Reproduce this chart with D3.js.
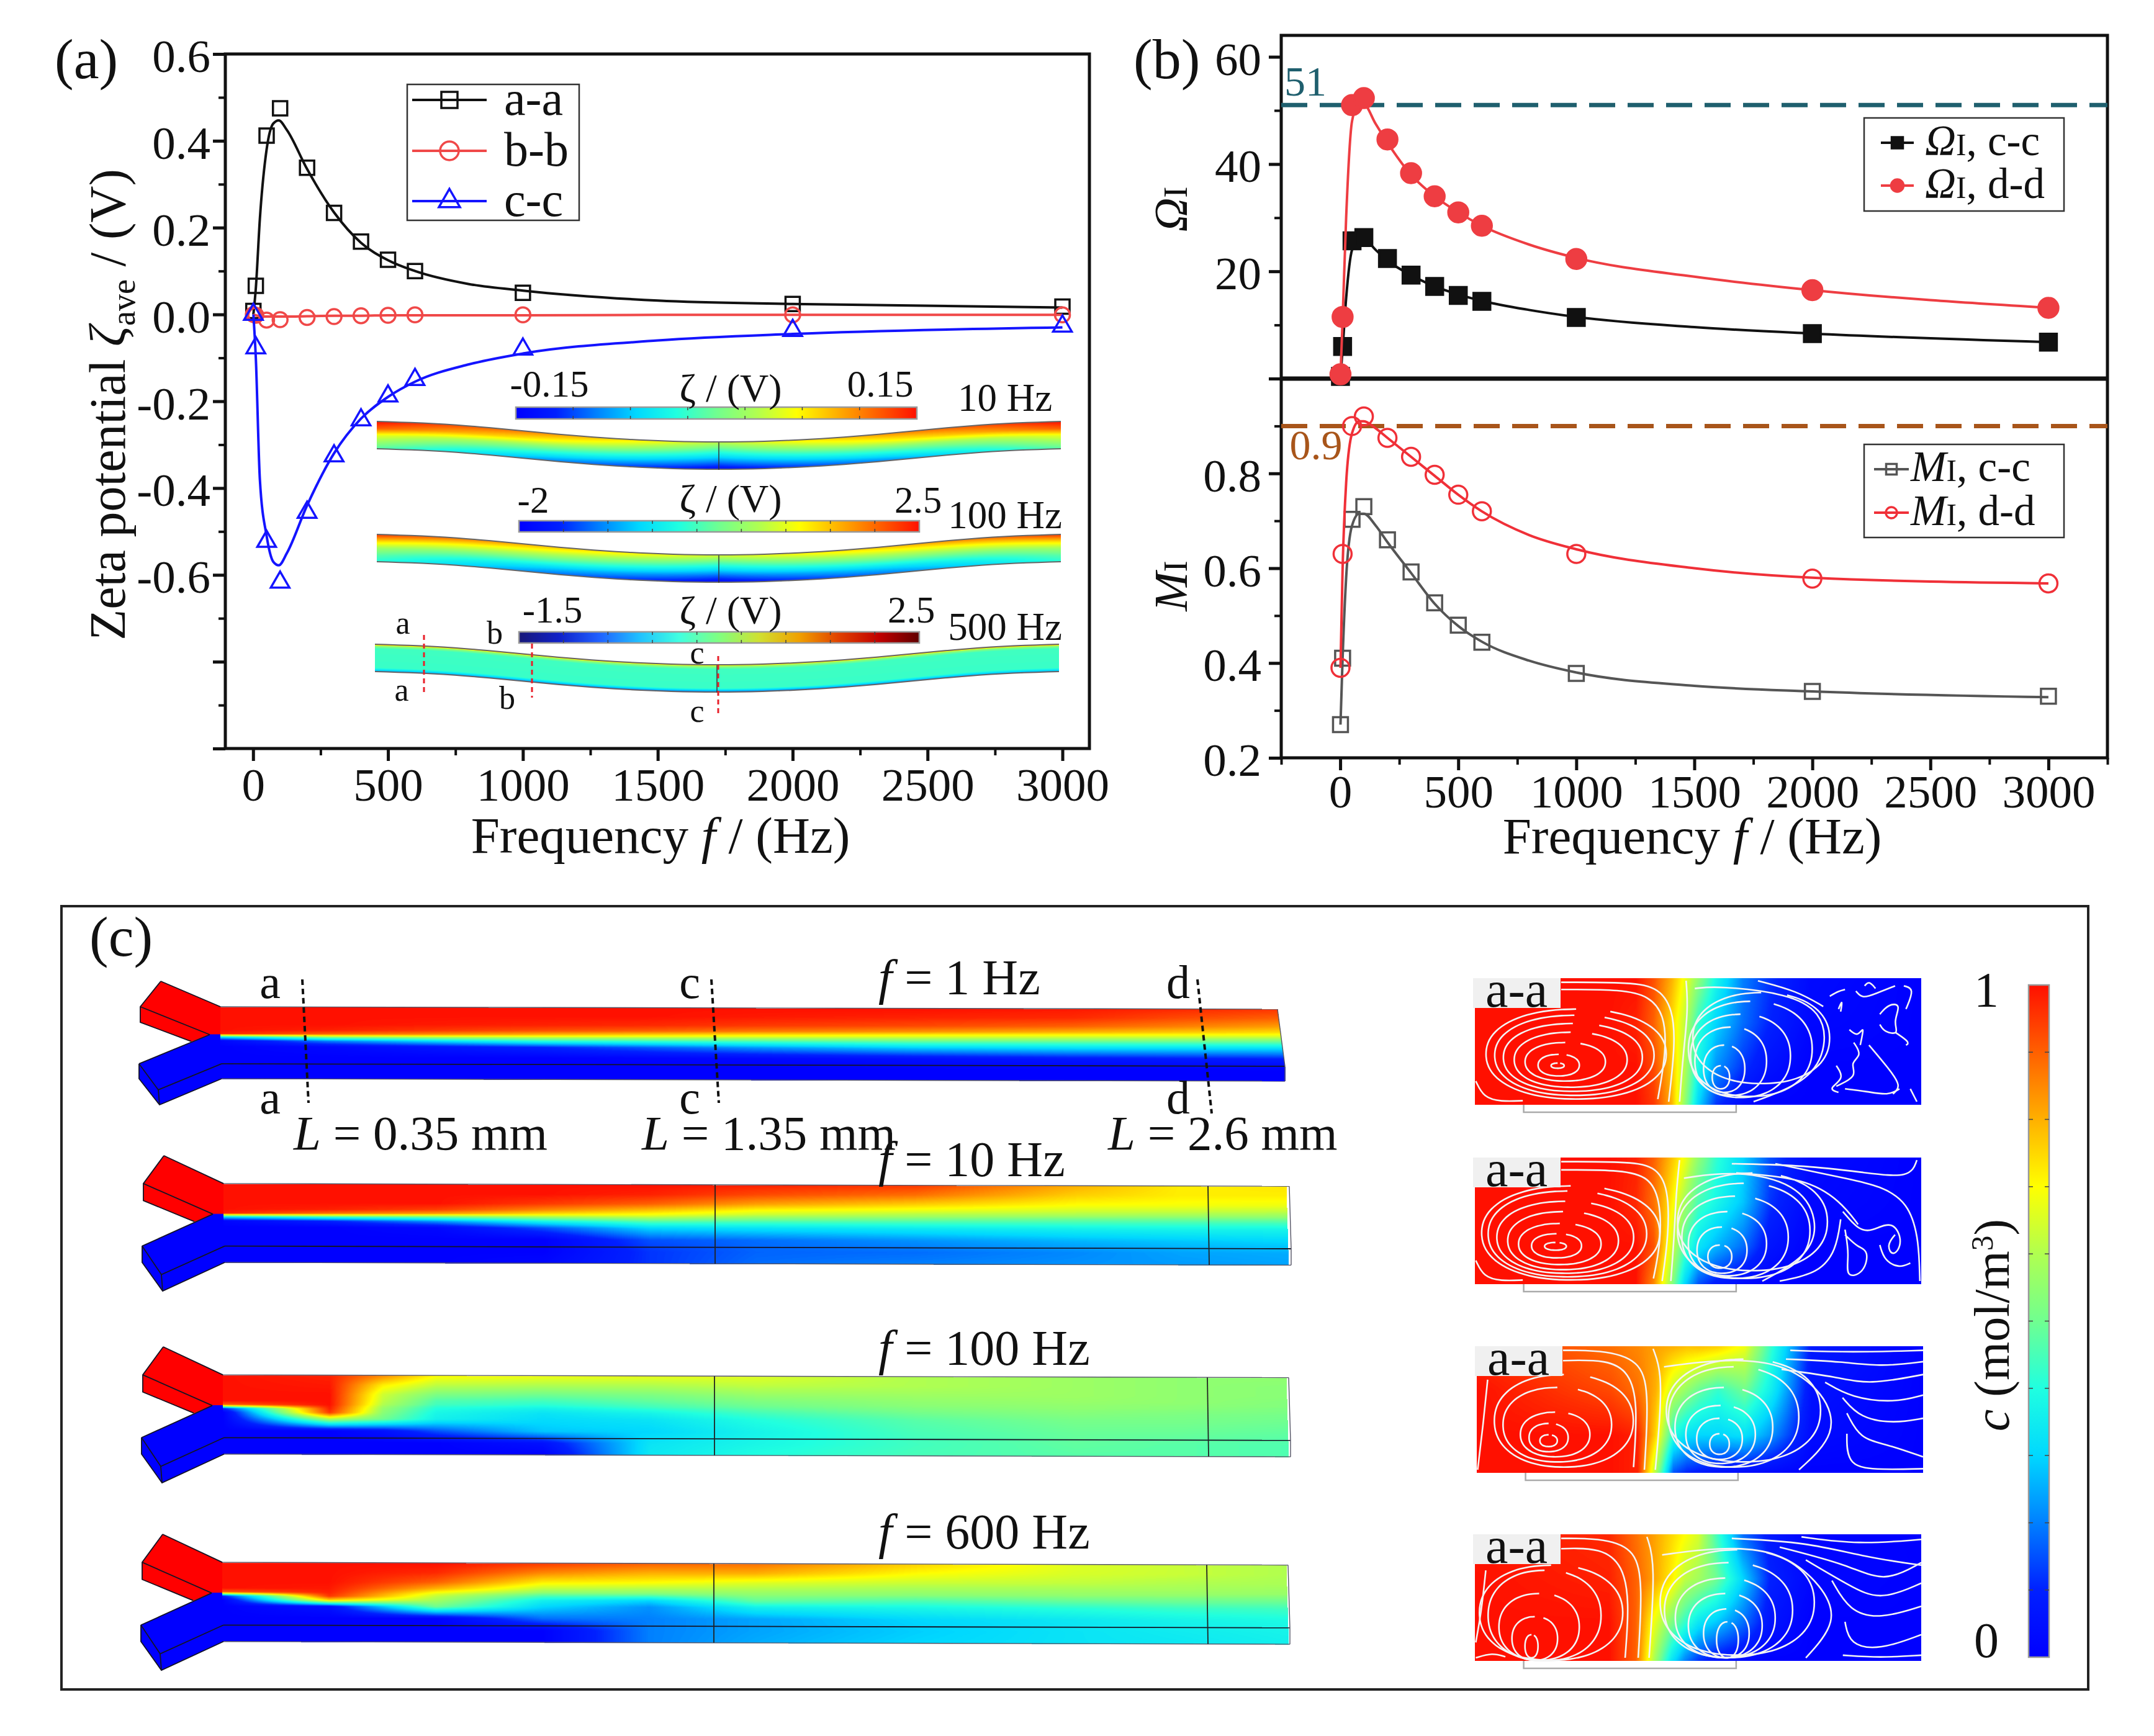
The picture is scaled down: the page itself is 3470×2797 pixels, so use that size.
<!DOCTYPE html>
<html>
<head>
<meta charset="utf-8">
<script src="https://cdn.jsdelivr.net/npm/d3@7"></script>
<style>
  body { margin: 0; background: #fff; }
  svg { display: block; }
  text { font-family: "Liberation Serif", serif; fill: #111; }
  .axis path { display: none; }
  .axis line { stroke: #111; stroke-width: 5; }
  .axis text { font-size: 75px; }
</style>
</head>
<body>
<svg></svg>
<script>
// ---- data ----
const freq = [1, 10, 50, 100, 200, 300, 400, 500, 600, 1000, 2000, 3000];

// panel (a) markers
const zetaAA = [0.008, 0.066, 0.412, 0.475, 0.338, 0.234, 0.168, 0.126, 0.1, 0.05, 0.024, 0.018];
const zetaBB = [0, -0.002, -0.013, -0.012, -0.007, -0.005, -0.003, -0.002, -0.001, -0.001, -0.001, -0.001];
const zetaCC = [0, -0.077, -0.523, -0.617, -0.456, -0.326, -0.243, -0.188, -0.15, -0.08, -0.037, -0.027];

// panel (a) fitted curves
const fitFreqZeta = [1, 10, 25, 50, 75, 95, 125, 200, 300, 400, 500, 600, 800, 1000, 1500, 2000, 3000];
const fitAA = [0, 0.06, 0.22, 0.38, 0.44, 0.447, 0.425, 0.335, 0.235, 0.165, 0.125, 0.1, 0.07, 0.055, 0.032, 0.024, 0.016];
const fitBB = [0, -0.002, -0.004, -0.005, -0.005, -0.005, -0.005, -0.004, -0.003, -0.003, -0.002, -0.002, -0.002, -0.002, -0.001, -0.001, -0.001];
const fitCC = [0, -0.1, -0.38, -0.51, -0.57, -0.578, -0.55, -0.44, -0.32, -0.24, -0.19, -0.155, -0.115, -0.09, -0.06, -0.045, -0.03];

// panel (b) markers
const omegaCC = [0.4, 6, 25.7, 26.3, 22.4, 19.3, 17.2, 15.5, 14.4, 11.4, 8.4, 6.8];
const omegaDD = [0.8, 11.5, 51, 52.3, 44.6, 38.3, 34, 31, 28.5, 22.3, 16.5, 13.2];
const mixCC = [0.27, 0.41, 0.703, 0.73, 0.66, 0.592, 0.527, 0.48, 0.444, 0.378, 0.34, 0.33];
const mixDD = [0.39, 0.63, 0.9, 0.92, 0.875, 0.835, 0.797, 0.755, 0.72, 0.63, 0.578, 0.568];

// panel (b) fitted curves
const fitFreqB = [1, 10, 25, 50, 80, 100, 150, 200, 300, 400, 500, 600, 800, 1000, 1500, 2000, 3000];
const fitOmegaCC = [0.3, 5.5, 15, 24, 26, 26, 24, 22, 19.3, 17.2, 15.7, 14.5, 12.8, 11.5, 9.6, 8.4, 6.8];
const fitOmegaDD = [0.5, 11, 30, 48, 51.5, 51.3, 47.5, 44, 38, 34, 31, 28.5, 25, 22.5, 19, 16.5, 13.2];
const fitMixCC = [0.27, 0.41, 0.58, 0.69, 0.715, 0.715, 0.69, 0.655, 0.59, 0.525, 0.478, 0.445, 0.405, 0.38, 0.352, 0.34, 0.328];
const fitMixDD = [0.39, 0.6, 0.78, 0.885, 0.91, 0.91, 0.895, 0.875, 0.835, 0.795, 0.755, 0.72, 0.67, 0.64, 0.6, 0.58, 0.568];

const zetaTicks = [0.6, 0.4, 0.2, 0, -0.2, -0.4, -0.6];
const freqTicks = [0, 500, 1000, 1500, 2000, 2500, 3000];

// concentration along the channels: one list per station, top of the face to the side wall
const fieldStations = [0, 0.1, 0.2, 0.3, 0.4, 0.5, 0.65, 0.8, 0.9, 1];
const fieldStations100 = [0, 0.1, 0.15, 0.2, 0.3, 0.4, 0.5, 0.65, 0.8, 0.9, 1];
const fieldRows = [0, 0.12, 0.24, 0.32, 0.37, 0.39, 0.42, 0.47, 0.55, 0.7, 0.85, 1];
const chan1Hz = [
  [1, 1, 1, 1, 0.98, 0.7, 0.3, 0.02, 0, 0, 0, 0],
  [1, 1, 1, 0.98, 0.9, 0.75, 0.5, 0.2, 0.02, 0, 0, 0],
  [1, 1, 0.99, 0.95, 0.85, 0.74, 0.55, 0.3, 0.06, 0, 0, 0],
  [1, 1, 0.98, 0.92, 0.8, 0.72, 0.58, 0.38, 0.1, 0, 0, 0],
  [1, 1, 0.97, 0.9, 0.76, 0.7, 0.58, 0.4, 0.16, 0.01, 0, 0],
  [1, 0.99, 0.95, 0.87, 0.73, 0.68, 0.58, 0.42, 0.22, 0.02, 0, 0],
  [1, 0.98, 0.93, 0.84, 0.7, 0.66, 0.58, 0.45, 0.28, 0.04, 0, 0],
  [0.99, 0.97, 0.9, 0.8, 0.68, 0.64, 0.57, 0.45, 0.3, 0.06, 0, 0],
  [0.97, 0.93, 0.86, 0.77, 0.67, 0.63, 0.56, 0.45, 0.3, 0.07, 0, 0],
  [0.95, 0.9, 0.82, 0.74, 0.66, 0.62, 0.55, 0.45, 0.3, 0.08, 0, 0],
];
const chan10Hz = [
  [1, 1, 1, 1, 0.98, 0.7, 0.3, 0.02, 0, 0, 0, 0],
  [1, 1, 1, 0.98, 0.88, 0.7, 0.4, 0.1, 0, 0, 0, 0],
  [1, 1, 1, 0.94, 0.82, 0.66, 0.46, 0.22, 0.02, 0, 0, 0],
  [1, 1, 0.95, 0.85, 0.74, 0.66, 0.54, 0.36, 0.15, 0, 0, 0.02],
  [1, 0.98, 0.9, 0.78, 0.7, 0.66, 0.58, 0.45, 0.3, 0.15, 0.12, 0.12],
  [0.98, 0.93, 0.82, 0.7, 0.64, 0.6, 0.54, 0.44, 0.32, 0.18, 0.17, 0.18],
  [0.95, 0.88, 0.76, 0.67, 0.6, 0.58, 0.52, 0.44, 0.34, 0.22, 0.18, 0.2],
  [0.8, 0.76, 0.7, 0.64, 0.59, 0.56, 0.5, 0.44, 0.36, 0.26, 0.21, 0.22],
  [0.72, 0.72, 0.69, 0.63, 0.58, 0.55, 0.5, 0.44, 0.37, 0.28, 0.24, 0.23],
  [0.73, 0.72, 0.68, 0.62, 0.57, 0.55, 0.5, 0.44, 0.37, 0.3, 0.25, 0.24],
];
const chan100Hz = [
  [1, 1, 1, 1, 0.9, 0.6, 0.1, 0, 0, 0, 0, 0],
  [0.98, 0.99, 1, 1, 1, 0.99, 0.98, 0.95, 0.6, 0, 0, 0],
  [0.85, 0.72, 0.64, 0.62, 0.6, 0.58, 0.56, 0.54, 0.5, 0.05, 0, 0],
  [0.7, 0.62, 0.52, 0.46, 0.44, 0.42, 0.4, 0.38, 0.36, 0.15, 0, 0],
  [0.68, 0.6, 0.5, 0.44, 0.41, 0.39, 0.36, 0.33, 0.31, 0.28, 0.05, 0],
  [0.67, 0.6, 0.52, 0.48, 0.45, 0.44, 0.41, 0.37, 0.33, 0.3, 0.33, 0.34],
  [0.66, 0.62, 0.56, 0.52, 0.5, 0.49, 0.47, 0.44, 0.4, 0.37, 0.38, 0.4],
  [0.6, 0.6, 0.57, 0.55, 0.54, 0.53, 0.52, 0.5, 0.47, 0.45, 0.44, 0.45],
  [0.57, 0.57, 0.57, 0.56, 0.55, 0.55, 0.54, 0.53, 0.51, 0.49, 0.48, 0.47],
  [0.55, 0.55, 0.55, 0.55, 0.54, 0.54, 0.53, 0.52, 0.51, 0.49, 0.47, 0.47],
  [0.55, 0.54, 0.54, 0.53, 0.53, 0.52, 0.52, 0.51, 0.5, 0.48, 0.46, 0.46],
];
const chan600Hz = [
  [1, 1, 1, 1, 0.9, 0.6, 0.1, 0, 0, 0, 0, 0],
  [1, 1, 1, 0.99, 0.98, 0.97, 0.95, 0.75, 0.05, 0, 0, 0],
  [1, 0.97, 0.9, 0.8, 0.7, 0.66, 0.62, 0.58, 0.5, 0, 0, 0],
  [0.95, 0.85, 0.72, 0.62, 0.55, 0.5, 0.44, 0.36, 0.3, 0.18, 0, 0],
  [0.9, 0.8, 0.7, 0.6, 0.54, 0.5, 0.42, 0.3, 0.22, 0.2, 0.2, 0.2],
  [0.88, 0.8, 0.66, 0.6, 0.56, 0.55, 0.52, 0.48, 0.36, 0.24, 0.24, 0.25],
  [0.76, 0.7, 0.63, 0.58, 0.55, 0.54, 0.5, 0.45, 0.38, 0.3, 0.29, 0.3],
  [0.66, 0.65, 0.62, 0.58, 0.56, 0.55, 0.52, 0.48, 0.41, 0.34, 0.33, 0.33],
  [0.63, 0.63, 0.6, 0.58, 0.56, 0.55, 0.52, 0.49, 0.43, 0.37, 0.35, 0.34],
  [0.6, 0.6, 0.59, 0.57, 0.56, 0.54, 0.52, 0.49, 0.44, 0.39, 0.37, 0.36],
];

// a-a cross sections: rows top to bottom
const sectionCols = [0, 0.3, 0.36, 0.4, 0.44, 0.47, 0.5, 0.54, 0.6, 0.66, 0.75, 1];
const sectionRows = [0, 0.35, 0.7, 1];
const section1Hz = [
  [1, 1, 1, 0.92, 0.8, 0.68, 0.55, 0.38, 0.2, 0.12, 0.03, 0],
  [1, 1, 0.98, 0.9, 0.75, 0.62, 0.42, 0.3, 0.18, 0.1, 0.02, 0],
  [1, 1, 1, 0.93, 0.78, 0.6, 0.38, 0.22, 0.12, 0.05, 0, 0],
  [1, 1, 1, 0.95, 0.8, 0.55, 0.3, 0.12, 0.03, 0, 0, 0],
];
const section10Hz = [
  [1, 1, 0.98, 0.9, 0.78, 0.68, 0.55, 0.42, 0.3, 0.15, 0.03, 0],
  [1, 1, 0.97, 0.88, 0.72, 0.58, 0.45, 0.38, 0.28, 0.12, 0.02, 0],
  [1, 1, 1, 0.92, 0.65, 0.45, 0.33, 0.26, 0.18, 0.06, 0, 0],
  [1, 1, 1, 0.85, 0.55, 0.3, 0.15, 0.08, 0.03, 0, 0, 0],
];
const section100Hz = [
  [0.97, 0.88, 0.85, 0.82, 0.8, 0.78, 0.78, 0.76, 0.68, 0.42, 0.08, 0],
  [1, 0.93, 0.88, 0.8, 0.62, 0.55, 0.48, 0.42, 0.5, 0.35, 0.05, 0],
  [1, 1, 0.98, 0.75, 0.4, 0.32, 0.3, 0.3, 0.32, 0.22, 0.03, 0],
  [1, 1, 0.98, 0.6, 0.15, 0.1, 0.08, 0.05, 0.03, 0.02, 0, 0],
];
const section600Hz = [
  [0.99, 0.97, 0.88, 0.82, 0.75, 0.7, 0.65, 0.45, 0.18, 0.08, 0.01, 0],
  [1, 0.98, 0.9, 0.82, 0.72, 0.62, 0.58, 0.5, 0.3, 0.1, 0.02, 0],
  [1, 1, 0.9, 0.68, 0.52, 0.42, 0.33, 0.28, 0.18, 0.06, 0, 0],
  [1, 1, 0.9, 0.6, 0.33, 0.2, 0.12, 0.06, 0.03, 0, 0, 0],
];

// streamline rings of the sections as [left, right, top, bottom], in section units (1025 x 246)
const rings1Hz = [[175, 205, 165, 175], [145, 240, 148, 190], [115, 300, 125, 200], [90, 350, 105, 212], [65, 385, 88, 220], [45, 412, 72, 228], [25, 440, 60, 235],
  [545, 585, 170, 215], [525, 620, 130, 222], [505, 670, 95, 228], [495, 725, 70, 232], [490, 775, 45, 230], [500, 815, 28, 205]];
const rings10Hz = [[160, 210, 165, 180], [130, 245, 148, 195], [100, 290, 128, 208], [75, 330, 105, 218], [50, 365, 85, 225], [30, 395, 65, 232], [15, 425, 55, 238],
  [535, 590, 170, 215], [510, 625, 135, 225], [490, 670, 105, 230], [475, 720, 75, 235], [465, 770, 50, 235], [465, 810, 30, 220]];
const rings100Hz = [[145, 185, 172, 195], [120, 210, 150, 205], [100, 260, 128, 215], [60, 310, 80, 225], [40, 360, 55, 235],
  [535, 580, 170, 210], [505, 610, 140, 220], [480, 640, 115, 228], [455, 680, 80, 235], [440, 740, 40, 235], [435, 790, 25, 225]];
const rings600Hz = [[115, 145, 195, 240], [85, 190, 160, 245], [55, 240, 115, 245], [30, 290, 70, 246], [10, 340, 60, 245],
  [555, 605, 170, 240], [525, 630, 145, 240], [490, 660, 115, 240], [460, 690, 85, 240], [435, 730, 55, 240], [425, 780, 30, 235]];

// loose streamlines of the sections, same units
const lines1Hz = [
  [[198, 8], [340, 8], [420, 15], [455, 60], [460, 130], [445, 240]], [[198, 22], [340, 22], [400, 35], [435, 70], [440, 140], [420, 235]],
  [[485, 5], [490, 60], [478, 150], [470, 240]], [[2, 200], [20, 232], [60, 240], [110, 238]],
  [[505, 20], [560, 15], [720, 30], [795, 65], [810, 130], [770, 200], [640, 240]], [[650, 5], [740, 25], [800, 55]],
  [[815, 35], [835, 25], [850, 22]], [[835, 60], [845, 40], [840, 65]], [[875, 25], [890, 40], [920, 30], [965, 15]], [[895, 15], [905, 5], [920, 20]],
  [[860, 100], [880, 115], [895, 90], [885, 130]], [[870, 125], [890, 150], [860, 165], [880, 190], [830, 210]], [[905, 130], [950, 175], [980, 210], [960, 225]],
  [[830, 170], [850, 195], [810, 215], [835, 222]], [[930, 90], [940, 105], [975, 110], [960, 85], [980, 50], [950, 50], [930, 70]],
  [[985, 15], [1010, 20], [990, 60]], [[850, 215], [900, 220], [950, 228], [975, 215]], [[1000, 215], [1015, 240]], [[965, 105], [1000, 125], [990, 130]],
];
const lines10Hz = [
  [[198, 8], [340, 8], [415, 15], [445, 60], [445, 150], [430, 240]], [[198, 24], [340, 24], [400, 38], [425, 80], [428, 160], [410, 235]],
  [[470, 5], [462, 70], [458, 150], [450, 240]], [[2, 200], [20, 232], [60, 240], [110, 238]],
  [[480, 40], [600, 25], [740, 50], [790, 120], [770, 190], [660, 240]], [[590, 12], [760, 15], [900, 30], [1000, 40], [1015, 5]],
  [[690, 12], [850, 40], [1015, 70], [1022, 240]], [[600, 30], [760, 40], [840, 85], [880, 130]],
  [[845, 105], [880, 140], [910, 145], [960, 120], [985, 165], [960, 195], [945, 170], [965, 150]],
  [[850, 140], [860, 190], [850, 235], [895, 225], [905, 180], [880, 175], [850, 150]], [[930, 170], [940, 200], [975, 215], [1000, 205]],
  [[700, 240], [790, 225], [830, 180], [840, 120]],
];
const lines100Hz = [
  [[198, 8], [300, 8], [380, 30], [395, 100], [385, 240]], [[198, 28], [300, 26], [350, 50], [370, 110], [360, 235]],
  [[405, 5], [425, 50], [420, 150], [410, 240]], [[2, 240], [15, 150], [25, 65]],
  [[430, 40], [560, 25], [700, 30], [800, 90], [830, 170], [740, 240]], [[720, 8], [860, 12], [1025, 8]], [[710, 25], [840, 30], [930, 40], [1025, 30]],
  [[700, 45], [830, 60], [900, 75], [1025, 55]], [[800, 70], [860, 100], [960, 110], [1025, 95]], [[840, 100], [880, 140], [960, 150], [1025, 140]],
  [[850, 130], [880, 180], [940, 190], [1025, 215]], [[850, 170], [850, 235], [930, 240], [1025, 238]],
];
const lines600Hz = [
  [[198, 8], [300, 8], [370, 30], [385, 100], [375, 240]], [[198, 28], [290, 26], [340, 60], [355, 130], [345, 240]],
  [[395, 5], [415, 55], [400, 240]], [[2, 210], [15, 150], [25, 70]], [[2, 240], [40, 230], [70, 238]],
  [[430, 40], [560, 25], [700, 30], [800, 100], [835, 170], [760, 240]], [[590, 8], [760, 15], [900, 45], [1025, 60]], [[750, 5], [880, 20], [1025, 10]],
  [[700, 25], [860, 60], [940, 95], [1025, 55]], [[760, 50], [860, 100], [930, 130], [1025, 95]], [[820, 90], [860, 150], [930, 165], [1025, 140]],
  [[850, 170], [860, 215], [930, 225], [1025, 195]], [[845, 235], [930, 240], [1025, 235]],
];

// zeta potential along the wavy wall: rows across the thickness, columns along the length
const stripCols = [0, 0.25, 0.5, 0.75, 1];
const stripDip = [0, 0.1, 0.4, 0.72, 0.92, 1, 0.92, 0.72, 0.4, 0.1, 0];
const stripRows = [0, 0.25, 0.5, 0.75, 1];
const stripRows500 = [0, 0.05, 0.15, 0.85, 0.95, 1];
const strip10Hz = [[1, 0.84, 0.62, 0.84, 1], [0.9, 0.7, 0.47, 0.7, 0.9], [0.67, 0.52, 0.33, 0.52, 0.67], [0.56, 0.36, 0.18, 0.36, 0.56], [0.46, 0.2, 0.03, 0.2, 0.46]];
const strip100Hz = [[0.95, 0.78, 0.65, 0.78, 0.95], [0.74, 0.62, 0.48, 0.62, 0.74], [0.57, 0.47, 0.33, 0.47, 0.57], [0.47, 0.31, 0.17, 0.31, 0.47], [0.4, 0.18, 0.03, 0.18, 0.4]];
const strip500Hz = [[0.85, 0.8, 0.75, 0.8, 0.85], [0.55, 0.55, 0.55, 0.55, 0.55], [0.44, 0.44, 0.44, 0.44, 0.44], [0.43, 0.43, 0.43, 0.43, 0.43], [0.3, 0.28, 0.25, 0.28, 0.3], [0.15, 0.1, 0.03, 0.1, 0.15]];

// colour stops
const rainbowStops = ["#0000ff", "#0020ff", "#0080ff", "#00d8ff", "#20ffe0", "#70ff90", "#b0ff50", "#ffff00", "#ffb000", "#ff6000", "#ff1000"];
const darkStops = ["#181878", "#1020c8", "#2060ff", "#20c0ff", "#40ffe0", "#80ff80", "#d0e030", "#f0a000", "#e04000", "#c00000", "#600000"];

const rainbow = d3.scaleLinear().domain(d3.range(11).map(i => i / 10)).range(rainbowStops).clamp(true);
const rainbowLut = d3.range(256).map(i => d3.rgb(rainbow(i / 255)));

// ---- page ----
const svg = d3.select("svg").attr("width", 3470).attr("height", 2797).attr("viewBox", "0 0 3470 2797");
const defs = svg.append("defs");

// rich text: parts are [string, kind], i = italic, s = small caps size, u = subscript,
// sup = superscript, b = back to the baseline from a subscript, back = back from a superscript
function rich(g, x, y, parts, size, anchor = "start", rotate = false) {
  const t = g.append("text")
    .attr("text-anchor", anchor)
    .style("font-size", size + "px")
    .attr("transform", rotate ? `translate(${x},${y}) rotate(-90)` : `translate(${x},${y})`);
  parts.forEach(([s, kind]) => {
    const span = t.append("tspan").text(s);
    if (kind === "i") span.style("font-style", "italic");
    if (kind === "s") span.style("font-size", size * 0.72 + "px");
    if (kind === "u") span.style("font-size", size * 0.66 + "px").attr("dy", size * 0.2);
    if (kind === "b") span.attr("dy", -size * 0.2);
    if (kind === "sup") span.style("font-size", size * 0.62 + "px").attr("dy", -size * 0.32);
    if (kind === "back") span.attr("dy", size * 0.32);
  });
  return t;
}

// one marker at the origin of a group
function marker(g, kind, side, color, filled) {
  const type = { square: d3.symbolSquare, circle: d3.symbolCircle, triangle: d3.symbolTriangle }[kind];
  const area = kind === "square" ? side * side : kind === "circle" ? Math.PI * side * side / 4 : Math.sqrt(3) / 4 * side * side;
  g.append("path")
    .attr("d", d3.symbol(type, area)())
    .attr("fill", filled ? color : "none")
    .attr("stroke", color)
    .attr("stroke-width", 3.5);
}

function drawSeries(g, xScale, yScale, fitX, fitY, values, color, kind, side, filled, width = 4) {
  const line = d3.line().curve(d3.curveMonotoneX).x(d => xScale(d[0])).y(d => yScale(d[1]));
  g.append("path").attr("d", line(d3.zip(fitX, fitY))).attr("fill", "none").attr("stroke", color).attr("stroke-width", width);
  g.selectAll(null).data(d3.zip(freq, values)).enter().append("g")
    .attr("transform", d => `translate(${xScale(d[0])},${yScale(d[1])})`)
    .each(function () { marker(d3.select(this), kind, side, color, filled); });
}

function legend(g, x, y, w, h, rows) {
  g.append("rect").attr("x", x).attr("y", y).attr("width", w).attr("height", h).attr("fill", "#fff").attr("stroke", "#333").attr("stroke-width", 2.5);
  rows.forEach(r => {
    g.append("line").attr("x1", r.x1).attr("x2", r.x2).attr("y1", r.y).attr("y2", r.y).attr("stroke", r.color).attr("stroke-width", 4);
    marker(g.append("g").attr("transform", `translate(${(r.x1 + r.x2) / 2},${r.y})`), r.kind, r.side, r.color, r.filled);
    rich(g, r.tx, r.ty, r.parts, r.size);
  });
}

// axis helpers: major ticks may be blank, minor ticks are drawn by a second axis
function styleAxis(sel, width) {
  sel.attr("class", "axis");
  sel.selectAll("line").style("stroke-width", width);
}

// bilinear lookup on a value table
function gridLookup(table, rows, cols) {
  return (u, v) => {
    const ci = Math.min(cols.length - 2, Math.max(0, d3.bisectRight(cols, u) - 1));
    const ri = Math.min(rows.length - 2, Math.max(0, d3.bisectRight(rows, v) - 1));
    const cu = (u - cols[ci]) / (cols[ci + 1] - cols[ci]);
    const rv = (v - rows[ri]) / (rows[ri + 1] - rows[ri]);
    const top = table[ri][ci] * (1 - cu) + table[ri][ci + 1] * cu;
    const bot = table[ri + 1][ci] * (1 - cu) + table[ri + 1][ci + 1] * cu;
    return top * (1 - rv) + bot * rv;
  };
}

// paint a value function to a canvas and place it in the svg; null leaves a pixel empty
function raster(g, x, y, w, h, fn, lut = rainbowLut) {
  const W = Math.round(w), H = Math.round(h);
  const canvas = document.createElement("canvas");
  canvas.width = W; canvas.height = H;
  const ctx = canvas.getContext("2d");
  const img = ctx.createImageData(W, H);
  for (let j = 0; j < H; j++) {
    for (let i = 0; i < W; i++) {
      const val = fn(i, j);
      if (val === null) continue;
      const c = lut[Math.max(0, Math.min(255, Math.round(val * 255)))];
      const k = (j * W + i) * 4;
      img.data[k] = c.r; img.data[k + 1] = c.g; img.data[k + 2] = c.b; img.data[k + 3] = 255;
    }
  }
  ctx.putImageData(img, 0, 0);
  g.append("image").attr("x", x).attr("y", y).attr("width", W).attr("height", H).attr("href", canvas.toDataURL());
}

function gradientBar(g, id, stops, x, y, w, h, vertical, tickCount) {
  const grad = defs.append("linearGradient").attr("id", id)
    .attr("x1", 0).attr("y1", vertical ? 1 : 0).attr("x2", vertical ? 0 : 1).attr("y2", 0);
  grad.selectAll("stop").data(stops).enter().append("stop")
    .attr("offset", (d, i) => i / (stops.length - 1)).attr("stop-color", d => d);
  g.append("rect").attr("x", x).attr("y", y).attr("width", w).attr("height", h)
    .attr("fill", `url(#${id})`).attr("stroke", "#999").attr("stroke-width", 2.5);
  const pos = d3.scaleLinear().domain([0, tickCount]).range(vertical ? [y + h, y] : [x, x + w]);
  g.selectAll(null).data(d3.range(1, tickCount)).enter().append("path")
    .attr("d", d => vertical
      ? `M${x},${pos(d)}h7M${x + w},${pos(d)}h-7`
      : `M${pos(d)},${y}v5M${pos(d)},${y + h}v-5`)
    .attr("stroke", "#444").attr("stroke-width", 1.5).attr("fill", "none");
}

// ---- panel (a) ----
const zetaX = d3.scaleLinear().domain([-103, 3100]).range([363, 1755]);
const zetaY = d3.scaleLinear().domain([-1, 0.6]).range([1206, 87]);
const panelA = svg.append("g");

// wavy wall insets go under the curves
const stripLayout = [
  { table: strip10Hz, rows: stripRows, x: 607, top: 679, w: 1102 },
  { table: strip100Hz, rows: stripRows, x: 607, top: 861, w: 1102 },
  { table: strip500Hz, rows: stripRows500, x: 604, top: 1038, w: 1102 },
];
const dipAt = d3.interpolateBasis(stripDip);
stripLayout.forEach(s => {
  const look = gridLookup(s.table, s.rows, stripCols);
  const thick = 44, drop = 34;
  raster(panelA, s.x, s.top, s.w, thick + drop + 2, (i, j) => {
    const u = i / s.w, t = (j - dipAt(u) * drop) / thick;
    return t < 0 || t > 1 ? null : look(u, t);
  });
  const edge = off => d3.line().curve(d3.curveLinear).x(d => s.x + d * s.w).y(d => s.top + off + dipAt(d) * drop)(d3.range(61).map(i => i / 60));
  panelA.append("path").attr("d", edge(0)).attr("fill", "none").attr("stroke", "#666").attr("stroke-width", 2);
  panelA.append("path").attr("d", edge(thick)).attr("fill", "none").attr("stroke", "#666").attr("stroke-width", 2);
  panelA.append("line").attr("x1", s.x + s.w / 2).attr("x2", s.x + s.w / 2).attr("y1", s.top + drop).attr("y2", s.top + drop + thick).attr("stroke", "#333").attr("stroke-width", 1.5);
});
gradientBar(panelA, "barA", rainbowStops, 831, 656, 646, 19, false, 7);
gradientBar(panelA, "barB", rainbowStops, 836, 839, 645, 18, false, 9);
gradientBar(panelA, "barC", darkStops, 836, 1018, 645, 18, false, 9);

[
  { y: 639, zy: 647, lo: "-0.15", lx: 885, hi: "0.15", hx: 1418, f: "10 Hz", fy: 662 },
  { y: 826, zy: 825, lo: "-2", lx: 859, hi: "2.5", hx: 1479, f: "100 Hz", fy: 851 },
  { y: 1003, zy: 1005, lo: "-1.5", lx: 890, hi: "2.5", hx: 1468, f: "500 Hz", fy: 1031 },
].forEach(r => {
  rich(panelA, r.lx, r.y, [[r.lo, ""]], 61, "middle");
  rich(panelA, 1177, r.zy, [["ζ / (V)", ""]], 64, "middle");
  rich(panelA, r.hx, r.y, [[r.hi, ""]], 61, "middle");
  rich(panelA, 1619, r.fy, [[r.f, ""]], 63, "middle");
});

// red section marks on the 500 Hz wall
[[683, 1023, 1120], [857, 1037, 1124], [1157, 1057, 1155]].forEach(([x, y1, y2]) => {
  panelA.append("line").attr("x1", x).attr("x2", x).attr("y1", y1).attr("y2", y2)
    .attr("stroke", "#e8202a").attr("stroke-width", 3).attr("stroke-dasharray", "8 6");
});
[["a", 649, 1021], ["a", 647, 1129], ["b", 797, 1037], ["b", 817, 1142], ["c", 1123, 1069], ["c", 1123, 1163]].forEach(([s, x, y]) => {
  rich(panelA, x, y, [[s, ""]], 52, "middle");
});

const zetaXAxis = d3.axisBottom(zetaX).tickValues(freqTicks).tickSize(20).tickFormat(d3.format("d"));
panelA.append("g").attr("transform", "translate(0,1206)").call(zetaXAxis)
  .call(s => styleAxis(s, 5))
  .selectAll("text").attr("y", 84).attr("dy", 0);
panelA.append("g").attr("transform", "translate(0,1206)")
  .call(d3.axisBottom(zetaX).tickValues(d3.range(250, 3000, 500)).tickSize(11).tickFormat(""))
  .call(s => styleAxis(s, 4));
const zetaYAxis = d3.axisLeft(zetaY).tickValues([...zetaTicks, -0.8, -1]).tickSize(20).tickPadding(4)
  .tickFormat(d => zetaTicks.includes(d) ? d.toFixed(1) : "");
panelA.append("g").attr("transform", "translate(363,0)").call(zetaYAxis)
  .call(s => styleAxis(s, 5))
  .selectAll("text").attr("dy", "0.38em");
panelA.append("g").attr("transform", "translate(363,0)")
  .call(d3.axisLeft(zetaY).tickValues(d3.range(-0.9, 0.6, 0.2)).tickSize(11).tickFormat(""))
  .call(s => styleAxis(s, 4));
panelA.append("rect").attr("x", 363).attr("y", 87).attr("width", 1392).attr("height", 1119)
  .attr("fill", "none").attr("stroke", "#111").attr("stroke-width", 5);

drawSeries(panelA, zetaX, zetaY, fitFreqZeta, fitAA, zetaAA, "#111", "square", 23, false);
drawSeries(panelA, zetaX, zetaY, fitFreqZeta, fitBB, zetaBB, "#f04848", "circle", 24, false);
drawSeries(panelA, zetaX, zetaY, fitFreqZeta, fitCC, zetaCC, "#1414ff", "triangle", 30, false);

legend(panelA, 656, 136, 277, 219, [
  { x1: 664, x2: 784, y: 161, color: "#111", kind: "square", side: 26, tx: 812, ty: 185, parts: [["a-a", ""]], size: 78 },
  { x1: 664, x2: 784, y: 243, color: "#f04848", kind: "circle", side: 30, tx: 812, ty: 267, parts: [["b-b", ""]], size: 78 },
  { x1: 664, x2: 784, y: 324, color: "#1414ff", kind: "triangle", side: 34, tx: 812, ty: 348, parts: [["c-c", ""]], size: 78 },
]);

rich(panelA, 201, 652, [["Zeta potential ", ""], ["ζ", "i"], ["ave", "u"], [" ", "b"], ["/ (V)", ""]], 82, "middle", true);
rich(panelA, 1064, 1374, [["Frequency ", ""], ["f", "i"], [" / (Hz)", ""]], 83, "middle");
rich(panelA, 88, 126, [["(a)", ""]], 92);

// ---- panel (b) ----
const bX = d3.scaleLinear().domain([-250, 3250]).range([2064, 3395]);
const omegaY = d3.scaleLinear().domain([0, 64]).range([610, 57]);
const mixY = d3.scaleLinear().domain([0.2, 1]).range([1221, 610]);
const panelB = svg.append("g");

panelB.append("g").attr("transform", "translate(0,1221)")
  .call(d3.axisBottom(bX).tickValues(freqTicks).tickSize(20).tickFormat(d3.format("d")))
  .call(s => styleAxis(s, 5))
  .selectAll("text").attr("y", 80).attr("dy", 0);
panelB.append("g").attr("transform", "translate(0,1221)")
  .call(d3.axisBottom(bX).tickValues(d3.range(-250, 3500, 500)).tickSize(11).tickFormat(""))
  .call(s => styleAxis(s, 4));
panelB.append("g").attr("transform", "translate(2064,0)")
  .call(d3.axisLeft(omegaY).tickValues([0, 20, 40, 60]).tickSize(20).tickPadding(12).tickFormat(d => d === 0 ? "" : d))
  .call(s => styleAxis(s, 5))
  .selectAll("text").attr("dy", "0.38em");
panelB.append("g").attr("transform", "translate(2064,0)")
  .call(d3.axisLeft(omegaY).tickValues([10, 30, 50]).tickSize(11).tickFormat(""))
  .call(s => styleAxis(s, 4));
panelB.append("g").attr("transform", "translate(2064,0)")
  .call(d3.axisLeft(mixY).tickValues([0.2, 0.4, 0.6, 0.8]).tickSize(20).tickPadding(12).tickFormat(d3.format(".1f")))
  .call(s => styleAxis(s, 5))
  .selectAll("text").attr("dy", "0.38em");
panelB.append("g").attr("transform", "translate(2064,0)")
  .call(d3.axisLeft(mixY).tickValues([0.3, 0.5, 0.7, 0.9]).tickSize(11).tickFormat(""))
  .call(s => styleAxis(s, 4));
panelB.append("rect").attr("x", 2064).attr("y", 57).attr("width", 1331).attr("height", 1164)
  .attr("fill", "none").attr("stroke", "#111").attr("stroke-width", 5);
panelB.append("line").attr("x1", 2064).attr("x2", 3395).attr("y1", 610).attr("y2", 610).attr("stroke", "#111").attr("stroke-width", 7);

panelB.append("line").attr("x1", 2064).attr("x2", 3395).attr("y1", omegaY(51)).attr("y2", omegaY(51))
  .attr("stroke", "#1f5f6e").attr("stroke-width", 7).attr("stroke-dasharray", "42 20");
panelB.append("line").attr("x1", 2064).attr("x2", 3395).attr("y1", mixY(0.9)).attr("y2", mixY(0.9))
  .attr("stroke", "#a8551a").attr("stroke-width", 7).attr("stroke-dasharray", "42 20");
rich(panelB, 2103, 154, [["51", ""]], 68, "middle").selectAll("tspan").style("fill", "#1f5f6e");
rich(panelB, 2120, 740, [["0.9", ""]], 68, "middle").selectAll("tspan").style("fill", "#a8551a");

drawSeries(panelB, bX, omegaY, fitFreqB, fitOmegaCC, omegaCC, "#111", "square", 27, true);
drawSeries(panelB, bX, omegaY, fitFreqB, fitOmegaDD, omegaDD, "#ee3d42", "circle", 32, true);
drawSeries(panelB, bX, mixY, fitFreqB, fitMixCC, mixCC, "#555", "square", 24, false);
drawSeries(panelB, bX, mixY, fitFreqB, fitMixDD, mixDD, "#f03038", "circle", 29, false);

legend(panelB, 3003, 190, 322, 150, [
  { x1: 3030, x2: 3083, y: 230, color: "#111", kind: "square", side: 18, filled: true, tx: 3101, ty: 250, parts: [["Ω", "i"], ["I", "s"], [", c-c", ""]], size: 69 },
  { x1: 3030, x2: 3083, y: 299, color: "#ee3d42", kind: "circle", side: 20, filled: true, tx: 3101, ty: 319, parts: [["Ω", "i"], ["I", "s"], [", d-d", ""]], size: 69 },
]);
legend(panelB, 3003, 716, 322, 150, [
  { x1: 3019, x2: 3075, y: 756, color: "#555", kind: "square", side: 17, tx: 3078, ty: 775, parts: [["M", "i"], ["I", "s"], [", c-c", ""]], size: 69 },
  { x1: 3019, x2: 3075, y: 826, color: "#f03038", kind: "circle", side: 18, tx: 3078, ty: 846, parts: [["M", "i"], ["I", "s"], [", d-d", ""]], size: 69 },
]);

rich(panelB, 1912, 337, [["Ω", "i"], ["I", "s"]], 76, "middle", true);
rich(panelB, 1912, 944, [["M", "i"], ["I", "s"]], 76, "middle", true);
rich(panelB, 2726, 1375, [["Frequency ", ""], ["f", "i"], [" / (Hz)", ""]], 83, "middle");
rich(panelB, 1826, 126, [["(b)", ""]], 92);

// ---- panel (c) ----
const panelC = svg.append("g");
panelC.append("rect").attr("x", 99).attr("y", 1460).attr("width", 3265).attr("height", 1262)
  .attr("fill", "none").attr("stroke", "#222").attr("stroke-width", 4);
rich(panelC, 144, 1540, [["(c)", ""]], 92);

const channelLayout = [
  { table: chan1Hz, stations: fieldStations, tip: 1581, low: 1780, dx: 0, rightTop: 2058, rightBot: 2070, label: "1 Hz", ly: 1602, cuts: false },
  { table: chan10Hz, stations: fieldStations, tip: 1862, low: 2080, dx: 5, rightTop: 2072, rightBot: 2075, label: "10 Hz", ly: 1895, cuts: true },
  { table: chan100Hz, stations: fieldStations100, tip: 2170, low: 2389, dx: 4, rightTop: 2072, rightBot: 2075, label: "100 Hz", ly: 2199, cuts: true },
  { table: chan600Hz, stations: fieldStations, tip: 2472, low: 2691, dx: 3, rightTop: 2072, rightBot: 2075, label: "600 Hz", ly: 2495, cuts: true },
];
const blockTop = 0.206, faceBot = 0.668, blockBot = 0.789, mainSkew = 0.02;

channelLayout.forEach(c => {
  const g = panelC.append("g");
  const ly = d3.scaleLinear().domain([0, 1]).range([c.tip, c.low]);
  const poly = pts => "M" + pts.map(([x, y]) => `${x + c.dx},${ly(y)}`).join("L") + "Z";
  const seg = pts => "M" + pts.map(([x, y]) => `${x + c.dx},${ly(y)}`).join("L");

  // inlet branches
  [
    [[[226, 0.206], [338, 0.432], [308, 0.487], [226, 0.332]], "#ff0000"],
    [[[259, 0], [355, 0.206], [357, 0.432], [338, 0.432], [226, 0.206]], "#ff0000"],
    [[[224, 0.668], [255, 0.879], [257, 1], [224, 0.789]], "#0000ff"],
    [[[255, 0.879], [357, 0.668], [357, 0.789], [257, 1]], "#0000ff"],
    [[[338, 0.432], [357, 0.432], [357, 0.668], [255, 0.879], [224, 0.668]], "#0000ff"],
  ].forEach(([pts, fill]) => g.append("path").attr("d", poly(pts)).attr("fill", fill).attr("stroke", fill).attr("stroke-width", 1));

  // main run of the channel
  const look = gridLookup(d3.transpose(c.table), fieldRows, c.stations);
  const x0 = 355 + c.dx, w = c.rightBot + 1 - x0;
  const y0 = ly(blockTop), hFull = ly(blockBot) - y0, skew = ly(mainSkew) - ly(0);
  raster(g, x0, y0, w, hFull + skew + 1, (i, j) => {
    const u = i / w, v = (j - skew * u) / hFull;
    if (v < 0 || v > 1) return null;
    const right = c.rightTop + (c.rightBot - c.rightTop) * Math.min(1, v / 0.8);
    if (x0 + i > right) return null;
    return look(u, v);
  });

  // drawn edges
  const strongEdges = [
    [[226, 0.206], [338, 0.432]], [[259, 0], [226, 0.206], [226, 0.332], [308, 0.487]], [[259, 0], [355, 0.206]],
    [[224, 0.668], [255, 0.879], [357, 0.668]], [[224, 0.668], [224, 0.789], [257, 1], [357, 0.789]], [[255, 0.879], [257, 1]],
    [[338, 0.432], [224, 0.668]],
    [[357, 0.668], [c.rightBot, faceBot + mainSkew]],
  ];
  const faintEdges = [
    [[357, 0.789], [c.rightBot, blockBot + mainSkew]], [[355, blockTop], [c.rightTop, blockTop + mainSkew]],
    [[c.rightTop, blockTop + mainSkew], [c.rightBot, faceBot + mainSkew], [c.rightBot, blockBot + mainSkew]],
  ];
  strongEdges.forEach(pts => g.append("path").attr("d", seg(pts)).attr("fill", "none").attr("stroke", "#151525").attr("stroke-width", 1.8));
  faintEdges.forEach(pts => g.append("path").attr("d", seg(pts)).attr("fill", "none").attr("stroke", "#556").attr("stroke-width", 1.4));
  if (c.cuts) {
    [[1147, 1147], [1941, 1943]].forEach(([a, b]) => {
      const u = (a + c.dx - x0) / w;
      g.append("path").attr("d", seg([[a, blockTop + mainSkew * u], [b, blockBot + mainSkew * u]])).attr("fill", "none").attr("stroke", "#222").attr("stroke-width", 1.8);
    });
  }
  rich(panelC, 1415, c.ly, [["f", "i"], [" = " + c.label, ""]], 80);
});

// section marks on the first channel
[[487, 1578, 497, 1777], [1146, 1578, 1158, 1777], [1929, 1578, 1952, 1794]].forEach(([x1, y1, x2, y2]) => {
  panelC.append("line").attr("x1", x1).attr("y1", y1).attr("x2", x2).attr("y2", y2)
    .attr("stroke", "#111").attr("stroke-width", 4).attr("stroke-dasharray", "9 6");
});
[["a", 435, 1608], ["a", 435, 1794], ["c", 1111, 1608], ["c", 1111, 1794], ["d", 1898, 1608], ["d", 1898, 1794]].forEach(([s, x, y]) => {
  rich(panelC, x, y, [[s, ""]], 76, "middle");
});
[["0.35", 473], ["1.35", 1034], ["2.6", 1785]].forEach(([v, x]) => {
  rich(panelC, x, 1852, [["L", "i"], [` = ${v} mm`, ""]], 79);
});

// a-a sections with streamlines
const sectionLayout = [
  { table: section1Hz, rings: rings1Hz, lines: lines1Hz, x: 2376, y: 1576 },
  { table: section10Hz, rings: rings10Hz, lines: lines10Hz, x: 2376, y: 1865 },
  { table: section100Hz, rings: rings100Hz, lines: lines100Hz, x: 2379, y: 2169 },
  { table: section600Hz, rings: rings600Hz, lines: lines600Hz, x: 2376, y: 2472 },
];
const sectionW = 719, sectionH = 204;
const streamPath = d3.line().curve(d3.curveBasis);

function ringPoints([l, r, t, b]) {
  const gap = 0.35, n = 44, p = 2.2;
  return d3.range(n + 1).map(i => {
    const a = gap - Math.PI / 2 + i / n * (Math.PI * 2 - gap);
    const cs = Math.cos(a), sn = Math.sin(a);
    return [(l + r) / 2 + (r - l) / 2 * Math.sign(cs) * Math.pow(Math.abs(cs), 2 / p),
      (t + b) / 2 + (b - t) / 2 * Math.sign(sn) * Math.pow(Math.abs(sn), 2 / p)];
  });
}

sectionLayout.forEach(s => {
  const g = panelC.append("g");
  const sx = d3.scaleLinear().domain([0, 1025]).range([s.x, s.x + sectionW]);
  const sy = d3.scaleLinear().domain([0, 246]).range([s.y, s.y + sectionH]);
  const look = gridLookup(s.table, sectionRows, sectionCols);
  raster(g, s.x, s.y, sectionW, sectionH, (i, j) => look(i / sectionW, j / sectionH));
  const toPage = pts => pts.map(([a, b]) => [sx(a), sy(b)]);
  const streams = [...s.rings.map(ringPoints), ...s.lines];
  g.selectAll(null).data(streams).enter().append("path")
    .attr("d", d => streamPath(toPage(d)))
    .attr("fill", "none").attr("stroke", "#f4f4f4").attr("stroke-width", 2.6);
  // electrode outline under the section
  g.append("path").attr("d", `M${sx(112)},${s.y + sectionH}v12H${sx(600)}v-12`)
    .attr("fill", "none").attr("stroke", "#aaa").attr("stroke-width", 2.5);
  g.append("rect").attr("x", s.x - 3).attr("y", s.y).attr("width", 141).attr("height", 48).attr("fill", "#f0f0f0");
  rich(g, s.x + 17, s.y + 46, [["a-a", ""]], 82);
});

// concentration colour bar
gradientBar(panelC, "barMain", rainbowStops, 3268, 1587, 33, 1083, true, 10);
rich(panelC, 3200, 1622, [["1", ""]], 80, "middle");
rich(panelC, 3200, 2670, [["0", ""]], 80, "middle");
rich(panelC, 3236, 2135, [["c", "i"], [" (mol/m", ""], ["3", "sup"], [")", "back"]], 80, "middle", true);
</script>
</body>
</html>
